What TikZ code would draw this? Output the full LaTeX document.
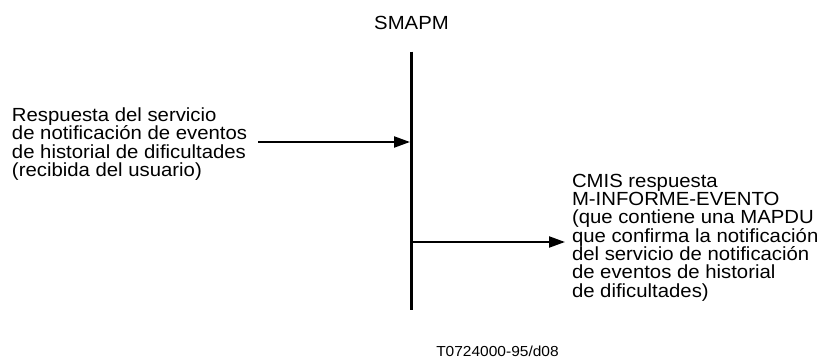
\documentclass[tikz,border=0pt]{standalone}
\usepackage{fontspec}
\setmainfont{Liberation Sans}
\newfontfamily\widesans[FakeStretch=1.07]{Liberation Sans}
\usetikzlibrary{arrows.meta}
\newcommand\mytxtfont{\widesans\fontsize{19}{18.3}\selectfont\lineskiplimit=-100pt\relax}
\newcommand\mylblfont{\widesans\fontsize{14.5}{17}\selectfont}
\tikzset{
  txt/.style={inner sep=0pt, outer sep=0pt, align=left, font=\mytxtfont},
  lifeline/.style={line width=2.7pt},
  msg/.style={line width=2.2pt, -{Triangle[length=16pt,width=11pt]}},
}
\begin{document}
\begin{tikzpicture}[x=1pt,y=-1pt]
  \useasboundingbox (0,0) rectangle (830,358);
  % title
  \node[txt, anchor=base] (smapm) at (411.5,30) {SMAPM};
  % lifeline
  \coordinate (ltop) at (411.5,51.7);
  \coordinate (lbot) at (411.5,310);
  \draw[lifeline] (ltop) -- (lbot);
  % left text
  \node[txt, anchor=north west] (lt) at (12,107.8) {Respuesta del servicio\\de notificación de eventos\\de historial de dificultades\\(recibida del usuario)};
  % right text
  \node[txt, anchor=north west] (rt) at (572,174.1) {CMIS respuesta\\M-INFORME-EVENTO\\(que contiene una MAPDU\\que confirma la notificación\\del servicio de notificación\\de eventos de historial\\de dificultades)};
  % arrows
  \coordinate (a1s) at (258,142);
  \coordinate (a1e) at (410,142);
  \coordinate (a2s) at (411.5,242);
  \coordinate (a2e) at (565,242);
  \draw[msg] (a1s) -- (a1e);
  \draw[msg] (a2s) -- (a2e);
  % figure label
  \node[inner sep=0pt, anchor=base, font=\mylblfont] (lbl) at (497.5,356) {T0724000-95/d08};
\end{tikzpicture}
\end{document}
